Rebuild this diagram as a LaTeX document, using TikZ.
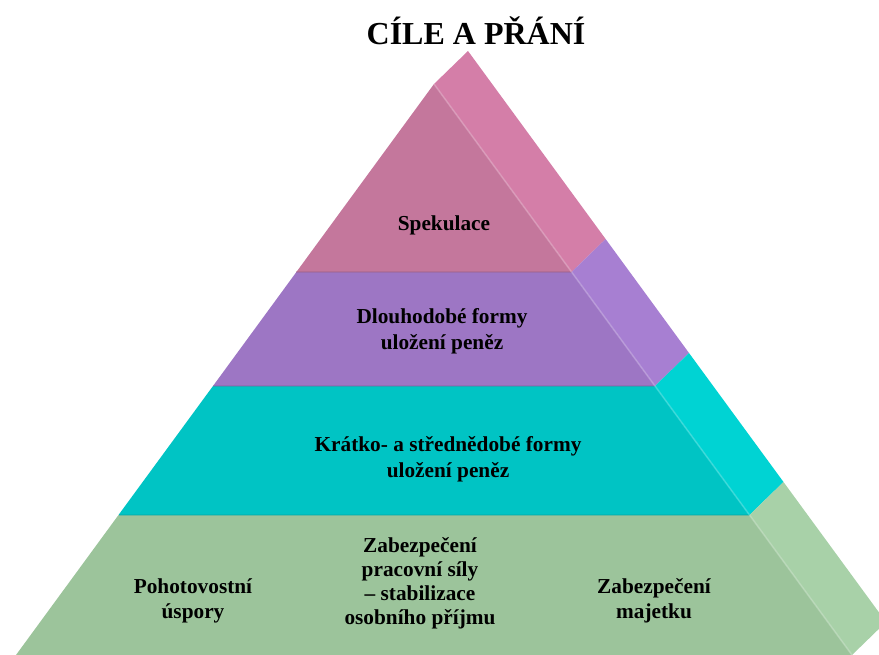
\documentclass[tikz,border=0pt]{standalone}
\usepackage{fontspec}
\setmainfont{Liberation Serif}
\definecolor{pinkF}{HTML}{C4779C}
\definecolor{pinkS}{HTML}{D47EA8}
\definecolor{purpF}{HTML}{9D76C4}
\definecolor{purpS}{HTML}{A77FD2}
\definecolor{tealF}{HTML}{00C4C4}
\definecolor{tealS}{HTML}{00D3D3}
\definecolor{grnF}{HTML}{9CC49B}
\definecolor{grnS}{HTML}{A8D1A8}
\tikzset{
  lbl/.style={align=center, font=\fontsize{21.3}{26}\selectfont\bfseries, text=black, inner sep=0pt},
  lblb/.style={align=center, font=\fontsize{21.3}{25}\selectfont\bfseries, text=black, inner sep=0pt},
  lblm/.style={align=center, font=\fontsize{21.3}{24}\selectfont\bfseries, text=black, inner sep=0pt},
  ttl/.style={font=\fontsize{32}{38}\selectfont\bfseries, text=black, inner sep=0pt, anchor=base},
  edgehl/.style={line width=1.6pt, opacity=0.5},
  bandline/.style={line width=1.5pt, opacity=0.35}
}
\begin{document}
\begin{tikzpicture}[x=1pt,y=-1pt]
\useasboundingbox (0,0) rectangle (879,655);
\clip (0,0) rectangle (879,655);
% front face coordinates
\coordinate (A) at (434,84);
\coordinate (L1) at (296.4,272); \coordinate (R1) at (571.6,272);
\coordinate (L2) at (213,386);   \coordinate (R2) at (655,386);
\coordinate (L3) at (118.5,515); \coordinate (R3) at (749.5,515);
\coordinate (L4) at (16,655);    \coordinate (R4) at (852,655);
\coordinate (L5) at (16,670);    \coordinate (R5) at (852,670);
% back (side) coordinates, shifted by (34,-33)
\coordinate (B)  at (468,51);
\coordinate (S1) at (605.6,239);
\coordinate (S2) at (689,353);
\coordinate (S3) at (783.5,482);
\coordinate (S4) at (886,622);
% side faces
\fill[pinkS] (A) -- (R1) -- (S1) -- (B) -- cycle;
\fill[purpS] (R1) -- (R2) -- (S2) -- (S1) -- cycle;
\fill[tealS] (R2) -- (R3) -- (S3) -- (S2) -- cycle;
\fill[grnS]  (R3) -- (R4) -- (S4) -- (S3) -- cycle;
% front faces
\fill[pinkF] (A) -- (R1) -- (L1) -- cycle;
\fill[purpF] (L1) -- (R1) -- (R2) -- (L2) -- cycle;
\fill[tealF] (L2) -- (R2) -- (R3) -- (L3) -- cycle;
\fill[grnF]  (L3) -- (R3) -- (R4) -- (R5) -- (L5) -- (L4) -- cycle;
% darker band bottoms
\draw[bandline, color=pinkF!80!black] (L1) -- (R1);
\draw[bandline, color=purpF!80!black] (L2) -- (R2);
\draw[bandline, color=tealF!85!black] (L3) -- (R3);
% highlight along the front right edge
\draw[edgehl, color=pinkS!60!white] (A) -- (R1);
\draw[edgehl, color=purpS!60!white] (R1) -- (R2);
\draw[edgehl, color=tealS!60!white] (R2) -- (R3);
\draw[edgehl, color=grnS!60!white] (R3) -- (R4);
% labels
\node[ttl] (title) at (476,45) {CÍLE A PŘÁNÍ};
\node[lbl] (spek) at (444,225) {Spekulace};
\node[lbl] (dlouho) at (442,331) {Dlouhodobé formy\\uložení peněz};
\node[lbl] (kratko) at (448,459) {Krátko- a střednědobé formy\\uložení peněz};
\node[lblb] (poho) at (193,601) {Pohotovostní\\úspory};
\node[lblm] (prac) at (420,583) {Zabezpečení\\pracovní síly\\– stabilizace\\osobního příjmu};
\node[lblb] (majetek) at (654,601) {Zabezpečení\\majetku};
\end{tikzpicture}
\end{document}
